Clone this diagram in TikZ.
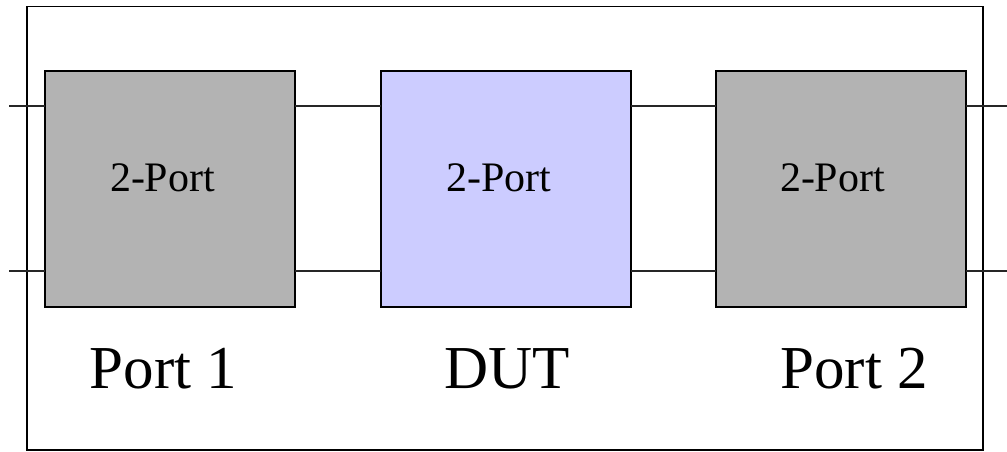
\documentclass[tikz,border=0pt]{standalone}
\usepackage{fontspec}
\setmainfont{Liberation Serif}
\definecolor{boxgray}{RGB}{179,179,179}
\definecolor{dutblue}{RGB}{204,204,255}
\begin{document}
\begin{tikzpicture}[x=1pt,y=-1pt,
  twoport/.style={draw=black, line width=2pt, minimum width=250pt, minimum height=236pt, inner sep=0pt, outer sep=0pt},
  wire/.style={draw=black!85, line width=1.4pt},
  frame/.style={draw=black, line width=1.8pt},
  smalltext/.style={font=\fontsize{42}{50}\selectfont, anchor=base, inner sep=0pt},
  bigtext/.style={font=\fontsize{61}{70}\selectfont, anchor=base, inner sep=0pt}]
\useasboundingbox (0,0) rectangle (1007,451);
\draw[frame] (27,6.5) rectangle (983,450);
\node[twoport, fill=boxgray] (b1) at (170,188.5) {};
\node[twoport, fill=dutblue] (dut) at (505.5,188.5) {};
\node[twoport, fill=boxgray] (b2) at (841,188.5) {};
\node[smalltext] (t1) at (162.5,191) {2-Port};
\node[smalltext] (t2) at (499,191) {2-Port};
\node[smalltext] (t3) at (832.5,191) {2-Port};
\node[bigtext] (l1) at (163.5,388) {Port 1};
\node[bigtext] (l2) at (507,388) {DUT};
\node[bigtext] (l3) at (854,388) {Port 2};
\coordinate (inT) at (9,106);
\coordinate (inB) at (9,271);
\coordinate (outT) at (1007,106);
\coordinate (outB) at (1007,271);
\draw[wire] (inT) -- (inT -| b1.west);
\draw[wire] (inB) -- (inB -| b1.west);
\draw[wire] (inT -| b1.east) -- (inT -| dut.west);
\draw[wire] (inB -| b1.east) -- (inB -| dut.west);
\draw[wire] (inT -| dut.east) -- (inT -| b2.west);
\draw[wire] (inB -| dut.east) -- (inB -| b2.west);
\draw[wire] (outT -| b2.east) -- (outT);
\draw[wire] (outB -| b2.east) -- (outB);
\end{tikzpicture}
\end{document}
